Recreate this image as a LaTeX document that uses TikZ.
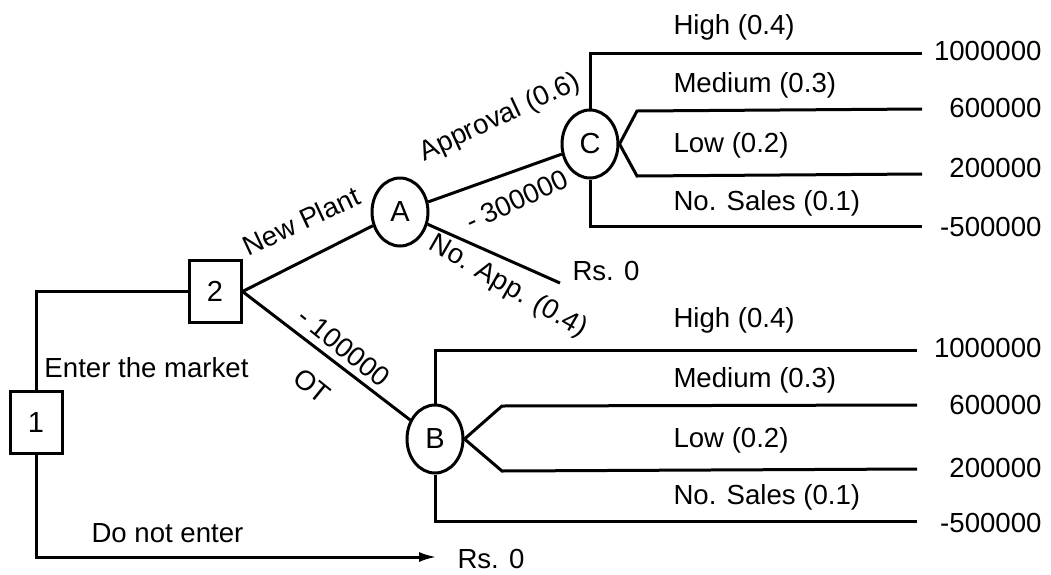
\documentclass[tikz,border=0pt]{standalone}
\usepackage{fontspec}
\setmainfont{Liberation Sans}
\usetikzlibrary{shapes.geometric,arrows.meta}
\begin{document}
\begin{tikzpicture}[x=0.5pt,y=-0.5pt, line width=1.5pt,
  every node/.style={font=\fontsize{13.8}{16}\selectfont, inner sep=0pt},
  dbox/.style={draw, rectangle, minimum width=26pt, minimum height=31pt, font=\fontsize{14.5}{16}\selectfont},
  chance/.style={draw, ellipse, minimum width=28pt, minimum height=34pt, font=\fontsize{14.5}{16}\selectfont},
  lab/.style={anchor=west},
  val/.style={anchor=east},
  tip/.style={-{Latex[length=9pt,width=5pt]}}]
\useasboundingbox (0,0) rectangle (1051,574);
% decision and chance nodes
\node[dbox] (n1) at (36,422.5) {1};
\node[dbox] (n2) at (215,291.5) {2};
\node[chance] (A) at (400,212) {A};
\node[chance] (C) at (590,144) {C};
\node[chance] (B) at (435,439) {B};
% free ends
\coordinate (r0a) at (560,283);
\coordinate (r0b) at (437,557);
\node[lab] (rsA) at (571,271) {Rs. 0};
\node[lab] (rsB) at (456,559) {Rs. 0};
% C branch ends
\coordinate (cMk) at (637,111);
\coordinate (cLk) at (637,176);
\coordinate (cH) at (922,53);
\coordinate (cM) at (922,109);
\coordinate (cL) at (922,174);
\coordinate (cN) at (922,226);
% B branch ends
\coordinate (bMk) at (502,406);
\coordinate (bLk) at (502,471);
\coordinate (bH) at (917,350);
\coordinate (bM) at (917,405);
\coordinate (bL) at (917,469);
\coordinate (bN) at (917,521);
% connectors
\draw (n1.north) |- (n2.west);
\draw[tip] (n1.south) |- (r0b);
\draw (n2.east) -- (A);
\draw (n2.east) -- (B);
\draw (A) -- (C);
\draw (A) -- (r0a);
\draw (C.north) |- (cH);
\draw (C.east) -- (cMk) -- (cM);
\draw (C.east) -- (cLk) -- (cL);
\draw (C.south) |- (cN);
\draw (B.north) |- (bH);
\draw (B.east) -- (bMk) -- (bM);
\draw (B.east) -- (bLk) -- (bL);
\draw (B.south) |- (bN);
% branch labels
\node[lab] at (43,368) {Enter the market};
\node[lab] at (90,533) {Do not enter};
\node[rotate=25] at (301,221) {New Plant};
\node[rotate=25] at (500,118) {Approval (0.6)};
\node[rotate=25] at (517,200) {- 300000};
\node[rotate=-30] at (508,287) {No. App. (0.4)};
\node[rotate=-39] at (344,347) {- 100000};
\node[rotate=-39] at (312,386) {OT};
% outcome labels, upper
\node[lab] at (672,27) {High (0.4)};
\node[lab] at (672,85) {Medium (0.3)};
\node[lab] at (672,145) {Low (0.2)};
\node[lab] at (672,203) {No. Sales (0.1)};
\node[val] at (1043,51) {1000000};
\node[val] at (1043,108) {600000};
\node[val] at (1043,168) {200000};
\node[val] at (1043,227) {-500000};
% outcome labels, lower
\node[lab] at (672,320) {High (0.4)};
\node[lab] at (672,380) {Medium (0.3)};
\node[lab] at (672,440) {Low (0.2)};
\node[lab] at (672,497) {No. Sales (0.1)};
\node[val] at (1043,348) {1000000};
\node[val] at (1043,405) {600000};
\node[val] at (1043,468) {200000};
\node[val] at (1043,523) {-500000};
\end{tikzpicture}
\end{document}
